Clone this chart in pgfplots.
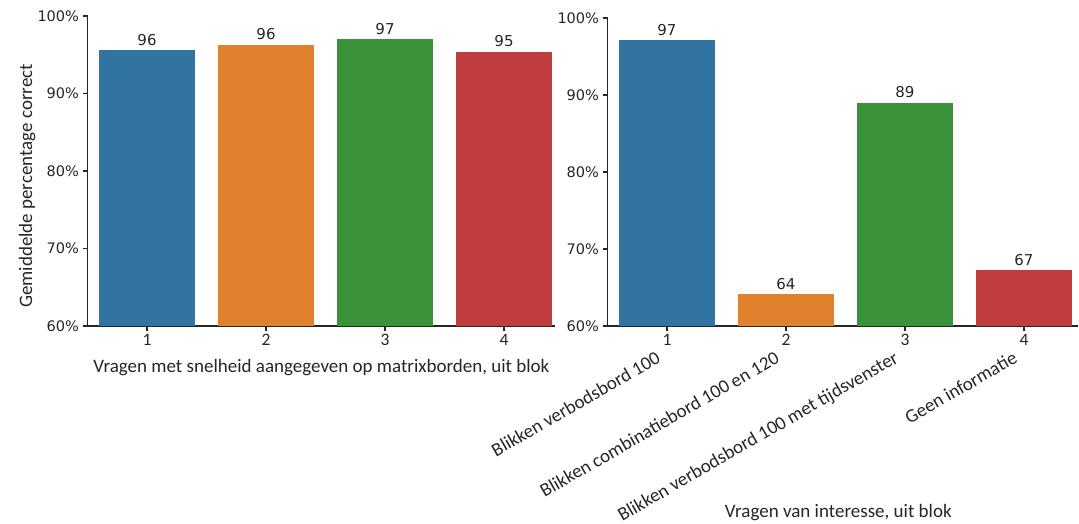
\documentclass[border=0pt]{standalone}
\usepackage{pgfplots}
\pgfplotsset{compat=1.18}
\usepackage{fontspec}
\setmainfont{Carlito}
\newfontfamily\dejavu{DejaVu Sans}
\definecolor{cblue}{HTML}{3274A1}
\definecolor{corange}{HTML}{E1812C}
\definecolor{cgreen}{HTML}{3A923A}
\definecolor{cred}{HTML}{C03D3E}
\definecolor{axgray}{HTML}{262626}

\pgfplotsset{
 mystyle/.style={
  scale only axis, anchor=south west, clip mode=individual,
  axis lines=left, axis line style={-, axgray, line width=1.1pt},
  ymin=60, ymax=100, ytick={60,70,80,90,100},
  yticklabel={\pgfmathprintnumber{\tick}\%},
  xtick={0,1,2,3}, xticklabels={1,2,3,4},
  tick align=outside, major tick length=5pt,
  tick style={axgray, line width=1.1pt},
  yticklabel style={font=\dejavu\fontsize{14.5}{16}\selectfont, text=axgray},
  xticklabel style={font=\fontsize{17.5}{19}\selectfont, text=axgray},
  /pgf/number format/assume math mode=true,
  ybar, bar width=0.8,
  nodes near coords={\pgfmathprintnumber[fixed,precision=0]{\pgfplotspointmeta}},
  every node near coord/.append style={font=\dejavu\fontsize{15}{17}\selectfont, text=axgray, yshift=1pt},
  label style={font=\fontsize{19}{22}\selectfont, text=axgray},
 },
}
\tikzset{rotlab/.style={xshift=-12pt, yshift=-24pt, rotate=30, anchor=north east, inner sep=0pt, font=\fontsize{19}{22}\selectfont, text=axgray}}

\begin{document}
\begin{tikzpicture}
\path[use as bounding box] (0pt,0pt) rectangle (1079pt,524pt);

% Left panel
\begin{axis}[mystyle,
  at={(87.5pt,198pt)}, width=467.7pt, height=310pt,
  xmin=-0.5, xmax=3.43,
  xlabel={Vragen met snelheid aangegeven op matrixborden, uit blok},
  xlabel style={at={(axis description cs:0.5,0)}, anchor=center, yshift=-42pt},
  ylabel={Gemiddelde percentage correct},
  ylabel style={at={(axis description cs:-0.129,0.452)}, anchor=center},
]
\addplot[fill=cblue, draw=none, bar shift=0pt] coordinates {(0,95.6)};
\addplot[fill=corange, draw=none, bar shift=0pt] coordinates {(1,96.3)};
\addplot[fill=cgreen, draw=none, bar shift=0pt] coordinates {(2,97.0)};
\addplot[fill=cred, draw=none, bar shift=0pt] coordinates {(3,95.4)};
\end{axis}

% Right panel
\begin{axis}[mystyle,
  at={(607.5pt,198pt)}, width=470pt, height=308pt,
  xmin=-0.5, xmax=3.45,
  xlabel={Vragen van interesse, uit blok},
  xlabel style={at={(axis description cs:0.491,0)}, anchor=center, yshift=-187pt},
]
\addplot[fill=cblue, draw=none, bar shift=0pt] coordinates {(0,97.1)};
\addplot[fill=corange, draw=none, bar shift=0pt] coordinates {(1,64.1)};
\addplot[fill=cgreen, draw=none, bar shift=0pt] coordinates {(2,89.0)};
\addplot[fill=cred, draw=none, bar shift=0pt] coordinates {(3,67.3)};
\node[rotlab] at (axis cs:0,60) {Blikken verbodsbord 100};
\node[rotlab] at (axis cs:1,60) {Blikken combinatiebord 100 en 120};
\node[rotlab] at (axis cs:2,60) {Blikken verbodsbord 100 met tijdsvenster};
\node[rotlab] at (axis cs:3,60) {Geen informatie};
\end{axis}
\end{tikzpicture}
\end{document}
